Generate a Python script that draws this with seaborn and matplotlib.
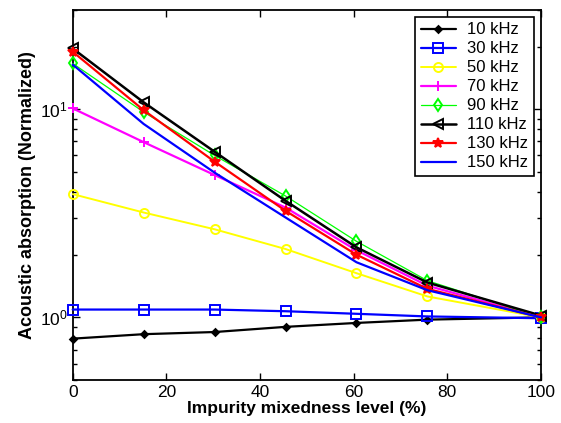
import matplotlib
matplotlib.use("Agg")
import matplotlib.pyplot as plt
import matplotlib.ticker as mticker
import seaborn as sns

# mixedness level (%)
mixedness = [0, 15.15, 30.3, 45.45, 60.6, 75.75, 100]

# normalized acoustic absorption per frequency
f10 = [0.79, 0.83, 0.85, 0.90, 0.94, 0.975, 1.0]
f30 = [1.09, 1.09, 1.09, 1.07, 1.04, 1.01, 0.99]
f50 = [3.91, 3.19, 2.65, 2.13, 1.63, 1.26, 1.0]
f70 = [10.1, 6.95, 4.83, 3.37, 2.10, 1.42, 1.0]
f90 = [16.6, 9.7, 6.0, 3.83, 2.32, 1.50, 1.0]
f110 = [19.6, 10.8, 6.25, 3.63, 2.17, 1.47, 1.02]
f130 = [18.9, 9.9, 5.6, 3.25, 2.0, 1.37, 1.0]
f150 = [16.4, 8.5, 4.96, 3.02, 1.84, 1.35, 1.0]

labels = ["10 kHz", "30 kHz", "50 kHz", "70 kHz", "90 kHz", "110 kHz", "130 kHz", "150 kHz"]
series = [f10, f30, f50, f70, f90, f110, f130, f150]

styles = [
    dict(color="black", marker="D", markersize=3.5, lw=1.6, fill=True),
    dict(color="#0000ff", marker="s", markersize=6.5, lw=1.6, fill=False),
    dict(color="#ffff00", marker="o", markersize=6.5, lw=1.4, fill=False),
    dict(color="#ff00ff", marker="+", markersize=7, lw=1.6, fill=True),
    dict(color="#00ff00", marker="d", markersize=6, lw=0.9, fill=False),
    dict(color="black", marker="<", markersize=7, lw=1.8, fill=False),
    dict(color="#ff0000", marker="*", markersize=7, lw=1.6, fill=True),
    dict(color="#0000ff", marker=None, markersize=0, lw=1.6, fill=True),
]

sns.set_style("ticks")
plt.rcParams["font.family"] = ["Liberation Sans", "DejaVu Sans"]
plt.rcParams["text.color"] = "black"
plt.rcParams["axes.labelcolor"] = "black"

fig = plt.figure(figsize=(5.61, 4.23), dpi=100)
ax = fig.add_axes([0.1296, 0.1017, 0.8347, 0.8747])

for vals, lab, st in zip(series, labels, styles):
    kw = {}
    if st["marker"]:
        kw = dict(marker=st["marker"], markersize=st["markersize"],
                  markeredgecolor=st["color"], markeredgewidth=1.4,
                  markerfacecolor=st["color"] if st["fill"] else "none")
    sns.lineplot(x=mixedness, y=vals, ax=ax, color=st["color"], lw=st["lw"],
                 label=lab, clip_on=False, zorder=3, **kw)

ax.set_yscale("log")
ax.set_ylim(0.5, 30)
ax.set_xlim(0, 100)
ax.set_xticks([0, 20, 40, 60, 80, 100])
ax.yaxis.set_minor_formatter(mticker.NullFormatter())

for s in ax.spines.values():
    s.set_visible(True)
    s.set_linewidth(1.3)
    s.set_color("black")
    s.set_zorder(2)

ax.tick_params(which="both", direction="in", top=True, right=True, labelsize=12.5, colors="black")
ax.tick_params(which="major", length=5, width=1)
ax.tick_params(which="minor", length=3, width=1)

ax.set_xlabel("Impurity mixedness level (%)", fontsize=12.5, fontweight="bold", labelpad=1)
ax.set_ylabel("Acoustic absorption (Normalized)", fontsize=13, fontweight="bold", labelpad=3)

leg = ax.legend(loc="upper right", fontsize=12, frameon=True, fancybox=False,
                borderpad=0.35, labelspacing=0.24, handlelength=2.1, handletextpad=0.7,
                borderaxespad=0.4)
leg.get_frame().set_edgecolor("black")
leg.get_frame().set_linewidth(1.2)
leg.get_frame().set_alpha(1)
leg.set_zorder(5)

fig.savefig("out.png", dpi=100)
